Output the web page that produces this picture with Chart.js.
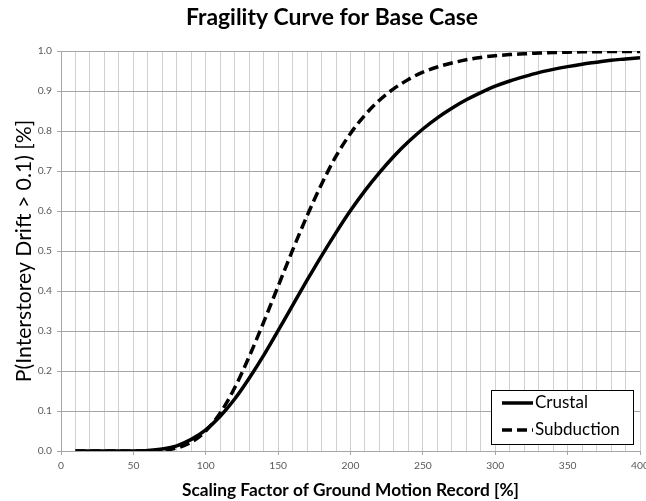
<!DOCTYPE html>
<html>
<head>
<meta charset="utf-8">
<script src="https://cdn.jsdelivr.net/npm/chart.js@4.4.1/dist/chart.umd.min.js"></script>
<style>
  body { margin: 0; background: #fff; }
  #wrap { width: 646px; height: 501px; }
</style>
</head>
<body>
<div id="wrap"><canvas id="myChart" width="646" height="501"></canvas></div>
<script>
// scaling factor [%]
var scaleFactors = [10, 20, 30, 40, 50, 60, 70, 80, 90, 100,
  110, 120, 130, 140, 150, 160, 170, 180, 190, 200,
  210, 220, 230, 240, 250, 260, 270, 280, 290, 300,
  310, 320, 330, 340, 350, 360, 370, 380, 390, 400];

var crustal = [0, 0, 0, 0, 0.0002, 0.0013, 0.005, 0.013, 0.029, 0.053,
  0.087, 0.13, 0.182, 0.239, 0.301, 0.364, 0.427, 0.488, 0.546, 0.601,
  0.651, 0.696, 0.737, 0.773, 0.805, 0.833, 0.857, 0.878, 0.896, 0.912,
  0.925, 0.936, 0.946, 0.954, 0.961, 0.967, 0.972, 0.977, 0.980, 0.983];

var subduction = [0, 0, 0, 0, 0, 0.0003, 0.0018, 0.0075, 0.022, 0.05,
  0.095, 0.158, 0.236, 0.322, 0.412, 0.502, 0.588, 0.667, 0.737, 0.794,
  0.84, 0.877, 0.906, 0.929, 0.947, 0.96, 0.97, 0.978, 0.984, 0.988,
  0.991, 0.993, 0.995, 0.996, 0.997, 0.998, 0.998, 0.999, 0.999, 0.999];

var xTickLabels = [0, 50, 100, 150, 200, 250, 300, 350, 400];
var yTickLabels = ['0.0', '0.1', '0.2', '0.3', '0.4', '0.5', '0.6', '0.7', '0.8', '0.9', '1.0'];

var chartTitle = 'Fragility Curve for Base Case';
var xTitle = 'Scaling Factor of Ground Motion Record [%]';
var yTitle = 'P(Interstorey Drift > 0.1) [%]';

function toPoints(ys) {
  return scaleFactors.map(function(x, i) { return {x: x, y: ys[i]}; });
}

// pick a Lato size so a string comes out at a given pixel width
var mctx = document.createElement('canvas').getContext('2d');
function fitSize(text, weight, width) {
  mctx.font = weight + ' 100px Lato';
  return Math.round(1000 * width / mctx.measureText(text).width) / 10;
}
var titleSize = fitSize(chartTitle, 'bold', 292);
var xTitleSize = fitSize(xTitle, 'bold', 338);
var yTitleSize = fitSize(yTitle, 'normal', 263);
var legendSize = fitSize('Subduction', 'normal', 85);
var tickSize = fitSize('100', 'normal', 18);

// title drawn centred over the whole frame
var titlePlugin = {
  id: 'frameTitle',
  afterDraw: function(chart) {
    var c = chart.ctx;
    c.save();
    c.font = 'bold ' + titleSize + 'px Lato';
    c.fillStyle = '#000';
    c.textAlign = 'center';
    c.textBaseline = 'middle';
    c.fillText(chartTitle, 332, 18);
    c.restore();
  }
};

// boxed legend sitting in the bottom right of the plot
var boxLegend = {
  id: 'boxLegend',
  afterDraw: function(chart) {
    var c = chart.ctx;
    var a = chart.chartArea;
    var x0 = a.right - 149, y0 = a.bottom - 61, w = 142, h = 54;
    c.save();
    c.fillStyle = '#fff';
    c.fillRect(x0, y0, w, h);
    c.strokeStyle = '#000';
    c.lineWidth = 1;
    c.strokeRect(x0 + 0.5, y0 + 0.5, w, h);
    chart.data.datasets.forEach(function(ds, i) {
      var y = y0 + 13 + i * 27;
      c.beginPath();
      c.setLineDash(ds.borderDash || []);
      c.lineWidth = ds.borderWidth;
      c.strokeStyle = ds.borderColor;
      c.moveTo(x0 + 11, y);
      c.lineTo(x0 + 42, y);
      c.stroke();
      c.setLineDash([]);
      c.fillStyle = '#000';
      c.font = legendSize + 'px Lato';
      c.textBaseline = 'middle';
      c.fillText(ds.label, x0 + 44, y);
    });
    c.restore();
  }
};

var ctx = document.getElementById('myChart');
var myChart = new Chart(ctx, {
  type: 'line',
  data: {
    datasets: [
      {
        label: 'Crustal',
        data: toPoints(crustal),
        borderColor: '#000',
        borderWidth: 3.5,
        pointRadius: 0,
        cubicInterpolationMode: 'monotone'
      },
      {
        label: 'Subduction',
        data: toPoints(subduction),
        borderColor: '#000',
        borderWidth: 3.5,
        borderDash: [10, 5],
        pointRadius: 0,
        cubicInterpolationMode: 'monotone'
      }
    ]
  },
  options: {
    responsive: false,
    animation: false,
    layout: { padding: { top: 51, right: 6, left: 0, bottom: 0 } },
    plugins: {
      legend: { display: false },
      tooltip: { enabled: false }
    },
    scales: {
      x: {
        type: 'linear',
        min: 0,
        max: 400,
        afterFit: function(s) { s.height = 50; s.paddingLeft = 0; s.paddingRight = 0; },
        border: { color: '#a6a6a6' },
        grid: {
          color: '#d0d0d0',
          tickLength: 4,
          tickColor: function(c) {
            return xTickLabels.indexOf(c.tick.value) >= 0 ? '#a6a6a6' : 'rgba(0,0,0,0)';
          }
        },
        ticks: {
          stepSize: 10,
          autoSkip: false,
          maxRotation: 0,
          padding: 4,
          color: '#595959',
          font: { family: 'Lato', size: tickSize },
          callback: function(value) {
            return xTickLabels.indexOf(value) >= 0 ? String(value) : '';
          }
        },
        title: {
          display: true,
          text: xTitle,
          color: '#000',
          font: { family: 'Lato', size: xTitleSize, weight: 'bold' },
          padding: { top: 0, bottom: 0 }
        }
      },
      y: {
        min: 0,
        max: 1,
        afterFit: function(s) { s.width = 61; s.paddingTop = 0; s.paddingBottom = 0; },
        border: { color: '#a6a6a6' },
        grid: {
          color: '#a6a6a6',
          tickLength: 4
        },
        ticks: {
          stepSize: 0.1,
          padding: 5,
          color: '#595959',
          font: { family: 'Lato', size: tickSize },
          callback: function(value, index) {
            return yTickLabels[index];
          }
        },
        title: {
          display: true,
          text: yTitle,
          color: '#000',
          font: { family: 'Lato', size: yTitleSize },
          padding: { top: 11, bottom: 0 }
        }
      }
    }
  },
  plugins: [titlePlugin, boxLegend]
});
</script>
</body>
</html>
